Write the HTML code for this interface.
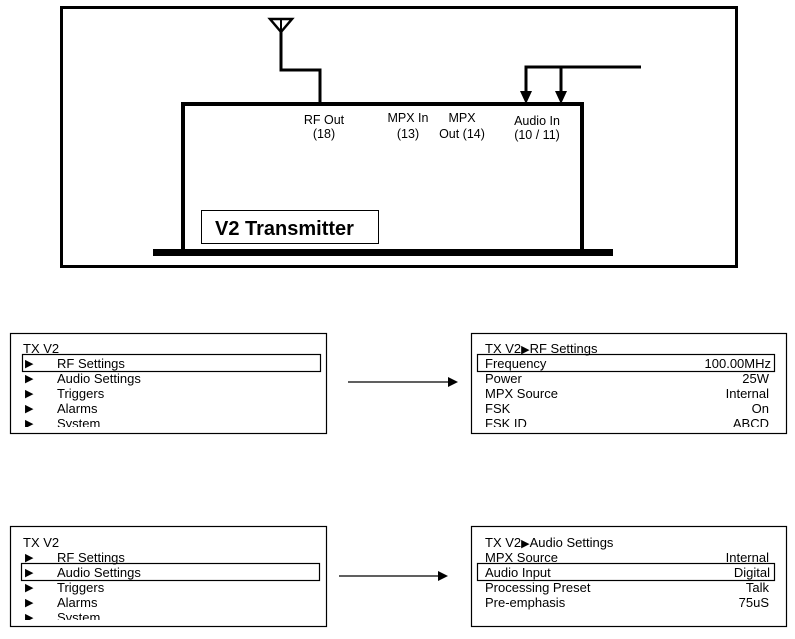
<!DOCTYPE html>
<html><head><meta charset="utf-8"><style>
html,body{margin:0;padding:0;background:#fff;width:795px;height:639px;overflow:hidden}
svg{display:block;font-family:"Liberation Sans",Arial,sans-serif}
</style></head><body>
<svg width="795" height="639" viewBox="0 0 795 639" xmlns="http://www.w3.org/2000/svg">
<defs>
<clipPath id="c1"><rect x="10" y="334" width="316" height="93"/></clipPath>
<clipPath id="c2"><rect x="471" y="334" width="315" height="93"/></clipPath>
<clipPath id="c3"><rect x="10" y="527" width="316" height="93"/></clipPath>
</defs>
<rect x="61.5" y="7.5" width="675" height="259" fill="none" stroke="#000" stroke-width="3"/>
<rect x="183" y="104" width="399" height="147" fill="none" stroke="#000" stroke-width="4"/>
<rect x="153" y="249" width="460" height="7" fill="#000"/>
<path d="M270 19 L292 19 L281 32 Z" fill="none" stroke="#000" stroke-width="2.5"/>
<line x1="281" y1="19" x2="281" y2="32" stroke="#000" stroke-width="2"/>
<polyline points="281,32 281,70 320,70 320,104" fill="none" stroke="#000" stroke-width="3"/>
<polyline points="526,92 526,67 641,67" fill="none" stroke="#000" stroke-width="3"/>
<line x1="561" y1="67" x2="561" y2="92" stroke="#000" stroke-width="3"/>
<path d="M520 91 L532 91 L526 104 Z" fill="#000"/>
<path d="M555 91 L567 91 L561 104 Z" fill="#000"/>
<g font-size="12.5" text-anchor="middle" fill="#000">
<text x="324" y="124">RF Out</text><text x="324" y="138">(18)</text>
<text x="408" y="122">MPX In</text><text x="408" y="138">(13)</text>
<text x="462" y="122">MPX</text><text x="462" y="138">Out (14)</text>
<text x="537" y="125">Audio In</text><text x="537" y="139">(10 / 11)</text>
</g>
<rect x="201.5" y="210.5" width="177" height="33" fill="#fff" stroke="#000" stroke-width="1"/>
<text x="215" y="235" font-size="20" font-weight="bold">V2 Transmitter</text>

<rect x="10.5" y="333.5" width="316" height="100" fill="none" stroke="#000" stroke-width="1.2"/>
<rect x="22.5" y="354.5" width="298" height="17" fill="none" stroke="#000" stroke-width="1.2"/>
<g clip-path="url(#c1)" font-size="13">
<text x="23" y="353">TX V2</text>
<g font-size="11"><text x="25" y="367">▶</text><text x="25" y="382">▶</text><text x="25" y="397">▶</text><text x="25" y="412">▶</text><text x="25" y="427">▶</text></g>
<text x="57" y="368">RF Settings</text><text x="57" y="383">Audio Settings</text><text x="57" y="398">Triggers</text><text x="57" y="413">Alarms</text><text x="57" y="428">System</text>
</g>
<line x1="348" y1="382" x2="450" y2="382" stroke="#000" stroke-width="1.3"/>
<path d="M448 377 L458 382 L448 387 Z" fill="#000"/>

<rect x="471.5" y="333.5" width="315" height="100" fill="none" stroke="#000" stroke-width="1.2"/>
<rect x="477.5" y="354.5" width="297" height="17" fill="none" stroke="#000" stroke-width="1.2"/>
<g clip-path="url(#c2)" font-size="13">
<text x="485" y="353">TX V2<tspan font-size="11">▶</tspan>RF Settings</text>
<text x="485" y="368">Frequency</text><text x="485" y="383">Power</text><text x="485" y="398">MPX Source</text><text x="485" y="413">FSK</text><text x="485" y="428">FSK ID</text>
<g text-anchor="end"><text x="771" y="368">100.00MHz</text><text x="769" y="383">25W</text><text x="769" y="398">Internal</text><text x="769" y="413">On</text><text x="769" y="428">ABCD</text></g>
</g>

<rect x="10.5" y="526.5" width="316" height="100" fill="none" stroke="#000" stroke-width="1.2"/>
<rect x="21.5" y="563.5" width="298" height="17" fill="none" stroke="#000" stroke-width="1.2"/>
<g clip-path="url(#c3)" font-size="13">
<text x="23" y="547">TX V2</text>
<g font-size="11"><text x="25" y="561">▶</text><text x="25" y="576">▶</text><text x="25" y="591">▶</text><text x="25" y="606">▶</text><text x="25" y="621">▶</text></g>
<text x="57" y="562">RF Settings</text><text x="57" y="577">Audio Settings</text><text x="57" y="592">Triggers</text><text x="57" y="607">Alarms</text><text x="57" y="622">System</text>
</g>
<line x1="339" y1="576" x2="440" y2="576" stroke="#000" stroke-width="1.3"/>
<path d="M438 571 L448 576 L438 581 Z" fill="#000"/>

<rect x="471.5" y="526.5" width="315" height="100" fill="none" stroke="#000" stroke-width="1.2"/>
<rect x="477.5" y="563.5" width="297" height="17" fill="none" stroke="#000" stroke-width="1.2"/>
<g font-size="13">
<text x="485" y="547">TX V2<tspan font-size="11">▶</tspan>Audio Settings</text>
<text x="485" y="562">MPX Source</text><text x="485" y="577">Audio Input</text><text x="485" y="592">Processing Preset</text><text x="485" y="607">Pre-emphasis</text>
<g text-anchor="end"><text x="769" y="562">Internal</text><text x="770" y="577">Digital</text><text x="769" y="592">Talk</text><text x="769" y="607">75uS</text></g>
</g>
</svg>
</body></html>
